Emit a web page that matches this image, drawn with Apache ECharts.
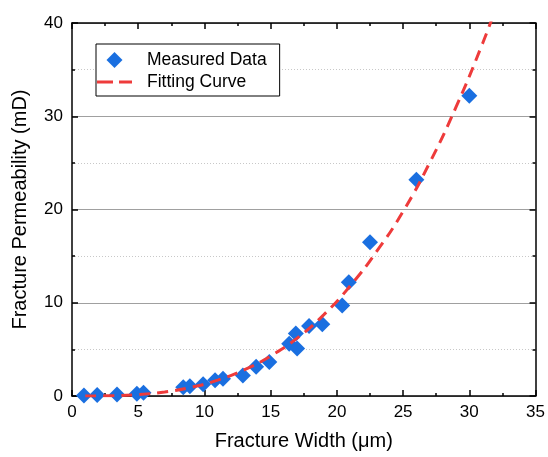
<!DOCTYPE html>
<html>
<head>
<meta charset="utf-8">
<script src="https://cdn.jsdelivr.net/npm/echarts@6/dist/echarts.min.js"></script>
<style>
  html, body { margin: 0; padding: 0; background: #fff; }
  #chart { width: 548px; height: 457px; }
</style>
</head>
<body>
<div id="chart"></div>
<script>
// Measured fracture width (μm) and permeability (mD)
const widthMeasured = [0.9, 1.9, 3.4, 4.9, 5.4, 8.4, 8.9, 9.9, 10.8, 11.4, 12.9, 13.9, 14.9, 16.4, 16.9, 17.0, 17.9, 18.9, 20.4, 20.9, 22.5, 26.0, 30.0];
const permMeasured  = [0.05, 0.1, 0.15, 0.25, 0.35, 0.95, 1.05, 1.25, 1.7, 1.85, 2.2, 3.15, 3.65, 5.6, 6.7, 5.1, 7.5, 7.7, 9.7, 12.2, 16.5, 23.2, 32.2];

// Fitted curve sampled along the width range
const widthFit = [1, 3, 5, 7, 9, 11, 13, 15, 17, 19, 21, 23, 25, 27, 29, 31, 32];
const permFit  = [0, 0.03, 0.16, 0.44, 0.93, 1.7, 2.8, 4.3, 6.2, 8.7, 11.8, 15.5, 19.8, 25.0, 31.0, 37.8, 41.6];

const xTicks = { min: 0, max: 35, interval: 5 };
const yTicks = { min: 0, max: 40, interval: 10 };

const FONT = 'Liberation Sans, Arial, sans-serif';
const BLUE = '#1a6fe0';
const RED = '#ee3b3b';
const axisBlack = { show: true, onZero: false, lineStyle: { color: '#000', width: 1.5 } };
const majorTick = { inside: true, length: 6, lineStyle: { color: '#000', width: 1.5 } };
const minorTick = { show: true, splitNumber: 2, length: 3, lineStyle: { color: '#000', width: 1.5 } };

// legend glyphs: a diamond, and two dashes for the fitted line
const diamondIcon = 'path://M0,-1L1,0L0,1L-1,0Z';
const dashIcon = 'path://M0,0h16v3h-16z M22,0h13v3h-13z';

const chart = echarts.init(document.getElementById('chart'), null, { renderer: 'canvas' });

chart.setOption({
  animation: false,
  backgroundColor: '#fff',
  grid: { left: 72, right: 10, top: 23, bottom: 61, containLabel: false },
  legend: {
    orient: 'vertical',
    left: 96,
    top: 44,
    padding: [6, 13, 4, 1],
    itemWidth: 35,
    itemHeight: 16,
    itemGap: 2,
    symbolKeepAspect: true,
    backgroundColor: '#fff',
    borderColor: '#000',
    borderWidth: 1,
    borderRadius: 0,
    textStyle: { fontFamily: FONT, fontSize: 17.5, color: '#000', lineHeight: 20, padding: [0, 0, 0, 10] },
    data: [
      { name: 'Measured Data', icon: diamondIcon, itemStyle: { color: BLUE, opacity: 1 } },
      { name: 'Fitting Curve', icon: dashIcon, itemStyle: { color: RED, opacity: 1 } }
    ]
  },
  xAxis: [
    {
      type: 'value', min: xTicks.min, max: xTicks.max, interval: xTicks.interval,
      name: 'Fracture Width (μm)', nameLocation: 'middle', nameGap: 35,
      nameTextStyle: { fontFamily: FONT, fontSize: 20, color: '#000' },
      axisLine: axisBlack, axisTick: majorTick, minorTick: minorTick,
      axisLabel: { fontFamily: FONT, fontSize: 17, color: '#000', margin: 8 },
      splitLine: { show: false }
    },
    {
      type: 'value', position: 'top', min: xTicks.min, max: xTicks.max, interval: xTicks.interval,
      axisLine: axisBlack, axisTick: majorTick, minorTick: minorTick,
      axisLabel: { show: false },
      splitLine: { show: false }
    }
  ],
  yAxis: [
    {
      type: 'value', min: yTicks.min, max: yTicks.max, interval: yTicks.interval,
      name: 'Fracture Permeability (mD)', nameLocation: 'middle', nameGap: 42,
      nameTextStyle: { fontFamily: FONT, fontSize: 20, color: '#000' },
      axisLine: axisBlack, axisTick: majorTick, minorTick: minorTick,
      axisLabel: { fontFamily: FONT, fontSize: 17, color: '#000', margin: 9 },
      splitLine: { show: true, lineStyle: { color: '#a0a0a0', width: 1.2 } },
      minorSplitLine: { show: true, lineStyle: { color: '#c8c8c8', width: 1, type: [1, 2] } }
    },
    {
      type: 'value', position: 'right', min: yTicks.min, max: yTicks.max, interval: yTicks.interval,
      axisLine: axisBlack, axisTick: majorTick, minorTick: minorTick,
      axisLabel: { show: false },
      splitLine: { show: false }
    }
  ],
  series: [
    {
      name: 'Measured Data',
      type: 'scatter',
      symbol: 'diamond',
      symbolSize: 16,
      itemStyle: { color: BLUE, opacity: 1 },
      data: widthMeasured.map((w, i) => [w, permMeasured[i]]),
      z: 3
    },
    {
      name: 'Fitting Curve',
      type: 'line',
      smooth: true,
      showSymbol: false,
      symbol: 'none',
      clip: true,
      lineStyle: { color: RED, width: 3, type: [11, 7] },
      itemStyle: { color: RED },
      data: widthFit.map((w, i) => [w, permFit[i]]),
      z: 4
    }
  ]
});
</script>
</body>
</html>
